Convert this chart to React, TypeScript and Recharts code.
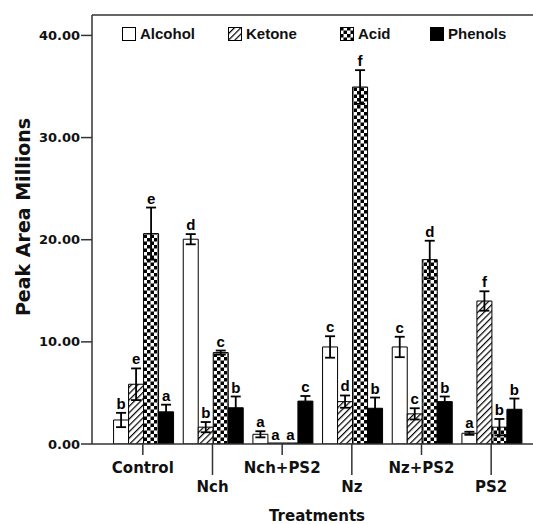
import React from "react";
import {
  BarChart,
  Bar,
  XAxis,
  YAxis,
  ErrorBar,
  LabelList,
  ReferenceLine,
} from "recharts";

const categories = ["Control", "Nch", "Nch+PS2", "Nz", "Nz+PS2", "PS2"];

const alcohol = [2.35, 20.05, 0.95, 9.5, 9.5, 1.05];
const alcoholErr = [0.7, 0.5, 0.3, 1.05, 1.0, 0.15];
const alcoholLetters = ["b", "d", "a", "c", "c", "a"];

const ketone = [5.85, 1.65, 0, 4.15, 2.95, 14.0];
const ketoneErr = [1.55, 0.5, 0, 0.6, 0.55, 0.95];
const ketoneLetters = ["e", "b", "a", "d", "c", "f"];

const acid = [20.6, 8.95, 0, 34.95, 18.05, 1.65];
const acidErr = [2.55, 0.2, 0, 1.65, 1.85, 0.8];
const acidLetters = ["e", "c", "a", "f", "d", "b"];

const phenols = [3.15, 3.55, 4.2, 3.5, 4.15, 3.4];
const phenolsErr = [0.7, 1.1, 0.5, 1.05, 0.5, 1.05];
const phenolsLetters = ["a", "b", "c", "b", "b", "b"];

const yTicks = [0, 10, 20, 30, 40];

const data = categories.map((name, i) => ({
  name,
  alcohol: alcohol[i],
  alcoholErr: alcoholErr[i],
  ketone: ketone[i],
  ketoneErr: ketoneErr[i],
  acid: acid[i],
  acidErr: acidErr[i],
  phenols: phenols[i],
  phenolsErr: phenolsErr[i],
}));

const AXIS_FONT = "'DejaVu Sans', sans-serif";
const LINE = "#333";

// letter above each error bar (zero bars get a 1px minPointSize so they keep their index)
const makeLetter =
  (vals: number[], errs: number[], letters: string[]) => (props: any) => {
    const { x, y, width, height, index } = props;
    const v = vals[index];
    const ppu = v > 0 ? Math.abs(height) / v : 0;
    const top = v > 0 ? y - errs[index] * ppu : y + height;
    return (
      <text
        x={x + width / 2}
        y={top - 4}
        textAnchor="middle"
        fontFamily="'Liberation Sans', Arial, sans-serif"
        fontWeight="bold"
        fontSize={15}
        fill="#000"
      >
        {letters[index]}
      </text>
    );
  };

const CategoryTick = (props: any) => {
  const { x, y, payload, index } = props;
  const low = index % 2 === 1;
  return (
    <g>
      <line x1={x} y1={y} x2={x} y2={y + (low ? 31 : 11)} stroke={LINE} strokeWidth={1.5} />
      <text
        x={x}
        y={y + (low ? 48 : 29)}
        textAnchor="middle"
        fontFamily={AXIS_FONT}
        fontWeight="bold"
        fontSize={15}
        fill="#111"
      >
        {payload.value}
      </text>
    </g>
  );
};

const legendItems = [
  { label: "Alcohol", fill: "#fff", left: 122 },
  { label: "Ketone", fill: "url(#stripes)", left: 228 },
  { label: "Acid", fill: "url(#checker)", left: 340 },
  { label: "Phenols", fill: "#000", left: 430 },
];

export default function App() {
  return (
    <div style={{ position: "absolute", left: 0, top: 0, width: 533, height: 524, background: "#fff" }}>
      <svg width={0} height={0} style={{ position: "absolute" }}>
        <defs>
          <pattern id="stripes" width={4.5} height={4.5} patternUnits="userSpaceOnUse" patternTransform="rotate(45)">
            <rect width={4.5} height={4.5} fill="#fff" />
            <line x1={0} y1={0} x2={0} y2={4.5} stroke="#000" strokeWidth={2.4} />
          </pattern>
          <pattern id="checker" width={7} height={7} patternUnits="userSpaceOnUse">
            <rect width={7} height={7} fill="#fff" />
            <rect x={0} y={0} width={3.5} height={3.5} fill="#000" />
            <rect x={3.5} y={3.5} width={3.5} height={3.5} fill="#000" />
          </pattern>
        </defs>
      </svg>

      <BarChart
        width={533}
        height={524}
        data={data}
        margin={{ top: 15, right: 0, left: 0, bottom: 0 }}
        barCategoryGap="8%"
        barGap={0}
      >
        <XAxis
          dataKey="name"
          height={80}
          padding={{ left: 16, right: 7 }}
          axisLine={{ stroke: LINE, strokeWidth: 1.5 }}
          tickLine={false}
          tickSize={0}
          tickMargin={0}
          interval={0}
          tick={<CategoryTick />}
          label={{
            content: () => (
              <text
                x={317}
                y={521}
                textAnchor="middle"
                fontFamily={AXIS_FONT}
                fontWeight="bold"
                fontSize={15}
                fill="#111"
              >
                Treatments
              </text>
            ),
          }}
        />
        <YAxis
          width={92}
          domain={[0, 42]}
          ticks={yTicks}
          allowDataOverflow
          tickFormatter={(v: number) => v.toFixed(2)}
          axisLine={{ stroke: LINE, strokeWidth: 1.5 }}
          tickLine={{ stroke: LINE, strokeWidth: 1.5 }}
          tickSize={11}
          tickMargin={1}
          tick={{ fontFamily: AXIS_FONT, fontWeight: "bold", fontSize: 13, fill: "#111" }}
          label={{
            content: () => (
              <text
                x={23}
                y={217}
                transform="rotate(-90 23 217)"
                textAnchor="middle"
                dominantBaseline="central"
                fontFamily={AXIS_FONT}
                fontWeight="bold"
                fontSize={19}
                fill="#111"
              >
                Peak Area Millions
              </text>
            ),
          }}
        />

        <Bar dataKey="alcohol" fill="#fff" stroke="#000" strokeWidth={1} minPointSize={1} isAnimationActive={false}>
          <ErrorBar dataKey="alcoholErr" width={5} stroke="#000" strokeWidth={1.8} direction="y" />
          <LabelList dataKey="alcohol" content={makeLetter(alcohol, alcoholErr, alcoholLetters)} />
        </Bar>
        <Bar dataKey="ketone" fill="url(#stripes)" stroke="#000" strokeWidth={1} minPointSize={1} isAnimationActive={false}>
          <ErrorBar dataKey="ketoneErr" width={5} stroke="#000" strokeWidth={1.8} direction="y" />
          <LabelList dataKey="ketone" content={makeLetter(ketone, ketoneErr, ketoneLetters)} />
        </Bar>
        <Bar dataKey="acid" fill="url(#checker)" stroke="#000" strokeWidth={1} minPointSize={1} isAnimationActive={false}>
          <ErrorBar dataKey="acidErr" width={5} stroke="#000" strokeWidth={1.8} direction="y" />
          <LabelList dataKey="acid" content={makeLetter(acid, acidErr, acidLetters)} />
        </Bar>
        <Bar dataKey="phenols" fill="#000" stroke="#000" strokeWidth={1} minPointSize={1} isAnimationActive={false}>
          <ErrorBar dataKey="phenolsErr" width={5} stroke="#000" strokeWidth={1.8} direction="y" />
          <LabelList dataKey="phenols" content={makeLetter(phenols, phenolsErr, phenolsLetters)} />
        </Bar>
        <ReferenceLine y={42} stroke={LINE} strokeWidth={1.5} />
      </BarChart>

      {/* legend inside the plot frame */}
      {legendItems.map((item) => (
        <div key={item.label} style={{ position: "absolute", left: item.left, top: 27, display: "flex", alignItems: "center" }}>
          <svg width={14} height={14} style={{ display: "block" }}>
            <rect x={0.5} y={0.5} width={13} height={13} fill={item.fill} stroke="#000" strokeWidth={1} />
          </svg>
          <span
            style={{
              marginLeft: 4,
              fontFamily: "'Liberation Sans', Arial, sans-serif",
              fontWeight: "bold",
              fontSize: 15,
              lineHeight: "14px",
              color: "#111",
            }}
          >
            {item.label}
          </span>
        </div>
      ))}
    </div>
  );
}
